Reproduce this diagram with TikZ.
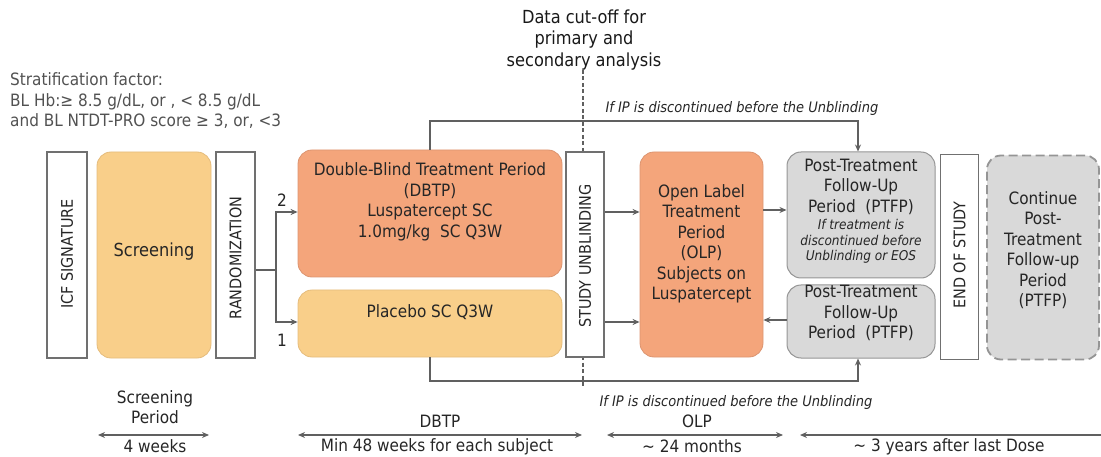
\documentclass[tikz,border=0pt]{standalone}
\usepackage{fontspec}
\setmainfont{DejaVu Sans Condensed}
\usetikzlibrary{arrows.meta}
\definecolor{salmon}{HTML}{F4A57B}
\definecolor{salmonb}{HTML}{DC9470}
\definecolor{peach}{HTML}{F9CF8A}
\definecolor{peachb}{HTML}{E5BC7C}
\definecolor{lgray}{HTML}{D9D9D9}
\definecolor{gborder}{HTML}{959595}
\definecolor{ln}{HTML}{606060}
\definecolor{txt}{HTML}{262626}
\begin{document}
\begin{tikzpicture}[x=1pt,y=-1pt,
  every node/.style={text=txt, font=\fontsize{17}{20.5}\selectfont},
  plainbox/.style={draw=ln!90, line width=1.8pt, fill=white, inner sep=0pt},
  rbox/.style={rounded corners=14pt, inner sep=0pt, line width=0.8pt},
  orbox/.style={rbox, fill=salmon, draw=salmonb},
  pbox/.style={rbox, fill=peach, draw=peachb},
  gbox/.style={rbox, fill=lgray, draw=gborder, line width=1pt},
  btext/.style={align=center, inner sep=0pt},
  vlabel/.style={rotate=90, inner sep=0pt, font=\fontsize{16}{19}\selectfont},
  line/.style={draw=ln, line width=1.3pt},
  arr/.style={line, -{Stealth[length=7pt,width=6pt]}},
  darr/.style={line, {Stealth[length=7pt,width=6pt]}-{Stealth[length=7pt,width=6pt]}},
  note/.style={inner sep=0pt, font=\fontsize{14.5}{17}\selectfont\itshape},
  ttext/.style={inner sep=0pt},
]
\useasboundingbox (0,0) rectangle (1101,457);

% stratification
\node[anchor=west, align=left, text=ln!85!black, inner sep=0pt] (strat) at (10,101)
  {Stratification factor:\\BL Hb:≥ 8.5 g/dL, or , < 8.5 g/dL\\and BL NTDT-PRO score ≥ 3, or, <3};

% cut-off
\node[btext, font=\fontsize{18}{21.5}\selectfont, text=black!90] (cut) at (584,40) {Data cut-off for\\primary and\\secondary analysis};
\coordinate (cuttop) at (583,70);
\coordinate (cutend) at (583,388);
\draw[line, line width=1.1pt, dash pattern=on 4pt off 2.5pt] (cuttop) -- (cutend);

% boxes
\node[plainbox, minimum width=40pt, minimum height=206pt] (icf) at (67,255) {};
\node[vlabel] (icft) at (67,254) {ICF SIGNATURE};
\node[pbox, minimum width=114pt, minimum height=206pt] (scr) at (154,255) {};
\node[btext, font=\fontsize{18}{21}\selectfont] (scrt) at (154,252) {Screening};
\node[plainbox, minimum width=39pt, minimum height=206pt] (rand) at (235.5,255) {};
\node[vlabel] (randt) at (235.5,258) {RANDOMIZATION};

\node[orbox, minimum width=264pt, minimum height=127pt] (dbtp) at (430,213.5) {};
\node[btext] (dbtpt) at (430,202)
  {Double-Blind Treatment Period\\(DBTP)\\Luspatercept SC\\1.0mg/kg\ \ SC Q3W};
\node[pbox, minimum width=264pt, minimum height=67pt] (plac) at (430,323.5) {};
\node[btext] (plact) at (430,312) {Placebo SC Q3W};

\node[plainbox, minimum width=38pt, minimum height=205pt] (unbl) at (585,254.5) {};
\node[vlabel] (unblt) at (585,256) {STUDY UNBLINDING};

\node[orbox, minimum width=123pt, minimum height=205pt] (olp) at (701.5,254.5) {};
\node[btext] (olpt) at (701.5,244)
  {Open Label\\Treatment\\Period\\(OLP)\\Subjects on\\Luspatercept};

\node[gbox, minimum width=148pt, minimum height=126pt] (pt1) at (861,215) {};
\node[btext] (pt1t) at (861,211)
  {Post-Treatment\\Follow-Up\\Period\ \ (PTFP)\\[-3pt]{\fontsize{13.5}{16}\selectfont\itshape If treatment is}\\[-5pt]{\fontsize{13.5}{16}\selectfont\itshape discontinued before}\\[-5pt]{\fontsize{13.5}{16}\selectfont\itshape Unblinding or EOS}};
\node[gbox, minimum width=148pt, minimum height=73pt] (pt2) at (861,321.5) {};
\node[btext] (pt2t) at (861,313) {Post-Treatment\\Follow-Up\\Period\ \ (PTFP)};

\node[plainbox, minimum width=38pt, minimum height=205pt] (eos) at (959.5,257) {};
\node[vlabel] (eost) at (959.5,255) {END OF STUDY};

\node[gbox, dash pattern=on 9pt off 4.5pt, line width=1.8pt, minimum width=112pt, minimum height=204pt] (cont) at (1043,257.5) {};
\node[btext] (contt) at (1043,250) {Continue\\Post-\\Treatment\\Follow-up\\Period\\(PTFP)};

% randomization split
\coordinate (fork) at (276,270);
\draw[line] (rand.east |- fork) -- (fork);
\draw[arr] (fork) |- (dbtp.west |- 0,212);
\draw[arr] (fork) |- (plac.west |- 0,322);
\node (two) at (282,200) {2};
\node (one) at (282,340) {1};

% discontinuation paths
\draw[arr, line width=1.1pt] (dbtp.north) -- (dbtp.north |- 0,121) -| ([xshift=-3pt]pt1.north);
\node[note] (n1) at (742,109) {If IP is discontinued before the Unblinding};
\draw[arr, line width=1.1pt] (plac.south) -- (plac.south |- 0,381) -| ([xshift=-3pt]pt2.south);
\node[note] (n2) at (736,402) {If IP is discontinued before the Unblinding};

% unblinding arrows
\draw[arr] (unbl.east |- 0,212) -- (olp.west |- 0,212);
\draw[arr] (unbl.east |- 0,322) -- (olp.west |- 0,322);
\draw[arr] (olp.east |- 0,210) -- (pt1.west |- 0,210);
\draw[arr] (pt2.west |- 0,320) -- (olp.east |- 0,320);

% timeline
\coordinate (s1) at (98,435); \coordinate (s2) at (209,435);
\draw[darr] (s1) -- (s2);
\node[btext] (sp) at (155,407) {Screening\\Period};
\node[ttext] (sw) at (155,446.5) {4 weeks};

\coordinate (d1) at (298,435); \coordinate (d2) at (582,435);
\draw[darr] (d1) -- (d2);
\node[ttext] (dl) at (440,421) {DBTP};
\node[ttext] (dw) at (437,446.5) {Min 48 weeks for each subject};

\coordinate (o1) at (607,435); \coordinate (o2) at (783,435);
\draw[darr] (o1) -- (o2);
\node[ttext] (ol) at (697,421) {OLP};
\node[ttext] (ow) at (692,446.5) {\char"007E\ 24 months};

\coordinate (f1) at (800,435); \coordinate (f2) at (1101,435);
\draw[line, {Stealth[length=7pt,width=6pt]}-] (f1) -- (f2);
\node[ttext] (fw) at (949,446.5) {\char"007E\ 3 years after last Dose};
\end{tikzpicture}
\end{document}
